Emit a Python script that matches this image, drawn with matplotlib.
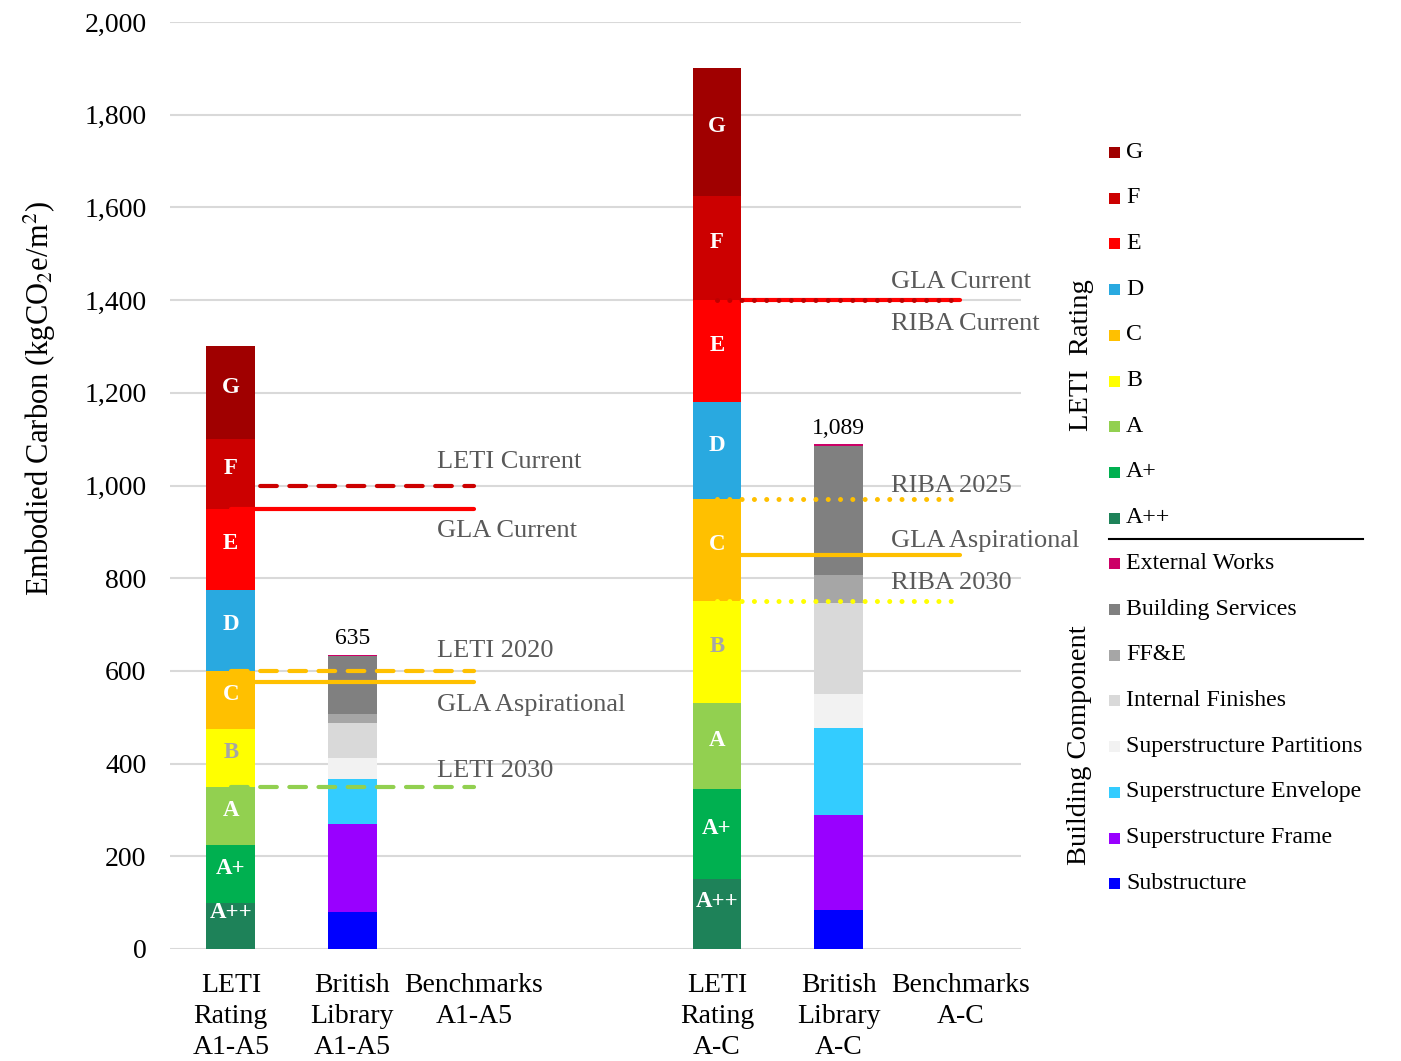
import matplotlib.pyplot as plt
from matplotlib.patches import Rectangle
from matplotlib.lines import Line2D
import numpy as np

plt.rcParams['font.family'] = ['Liberation Serif', 'DejaVu Serif']
plt.rcParams['mathtext.fontset'] = 'stix'

# categories on the x axis (slot 3 is left empty)
cat_pos = [0, 1, 2, 4, 5, 6]
cat_labels = ['LETI\nRating\nA1-A5', 'British\nLibrary\nA1-A5', 'Benchmarks\nA1-A5',
              'LETI\nRating\nA-C', 'British\nLibrary\nA-C', 'Benchmarks\nA-C']

# LETI rating band upper limits (kgCO2e/m2)
leti_names = ['A++', 'A+', 'A', 'B', 'C', 'D', 'E', 'F', 'G']
leti_colors = ['#1E8259', '#00B050', '#92D050', '#FFFF00', '#FFC000',
               '#29A9E0', '#FF0000', '#CC0000', '#A00000']
leti_a1a5 = [100, 225, 350, 475, 600, 775, 950, 1100, 1300]
leti_ac = [150, 345, 530, 750, 970, 1180, 1400, 1625, 1900]

# British Library building components
comp_names = ['Substructure', 'Superstructure Frame', 'Superstructure Envelope',
              'Superstructure Partitions', 'Internal Finishes', 'FF&E',
              'Building Services', 'External Works']
comp_colors = ['#0000FF', '#9900FF', '#33CCFF', '#F2F2F2', '#D9D9D9',
               '#A6A6A6', '#808080', '#CC0066']
bl_a1a5 = [80, 190, 97, 45, 75, 20, 126, 2]
bl_ac = [84, 205, 187, 75, 196, 60, 279, 3]

# benchmark lines: name, value, colour, style, drawn over LETI bar
bench_a1a5 = [('LETI Current', 1000, '#CC0000', 'dash', False),
              ('GLA Current', 950, '#FF0000', 'solid', True),
              ('LETI 2020', 600, '#FFC000', 'dash', True),
              ('GLA Aspirational', 575, '#FFC000', 'solid', False),
              ('LETI 2030', 350, '#92D050', 'dash', True)]
bench_ac = [('RIBA Current', 1400, '#C00000', 'dot', True),
            ('GLA Current', 1400, '#FF0000', 'solid', False),
            ('RIBA 2025', 970, '#FFC000', 'dot', True),
            ('GLA Aspirational', 850, '#FFC000', 'solid', False),
            ('RIBA 2030', 750, '#FFFF00', 'dot', True)]
# label text positions (value) for the benchmark names
label_a1a5 = {'LETI Current': 1051, 'GLA Current': 902, 'LETI 2020': 643,
              'GLA Aspirational': 526, 'LETI 2030': 384}
label_ac = {'GLA Current': 1439, 'RIBA Current': 1348, 'RIBA 2025': 999,
            'GLA Aspirational': 880, 'RIBA 2030': 790}

fig = plt.figure(figsize=(14.01, 10.61), dpi=100)
W, H = 1401, 1061
ax = fig.add_axes([170 / W, 1 - 949 / H, 851 / W, 927 / H])
ax.set_xlim(-0.5, 6.5)
ax.set_ylim(0, 2000)

bw = 0.4


def leti_bar(x, tops):
    bottoms = [0] + tops[:-1]
    for name, c, b, t in zip(leti_names, leti_colors, bottoms, tops):
        ax.bar(x, t - b, bw, bottom=b, color=c, zorder=3)
        off = 28 if name == 'A++' else 12
        ax.text(x, (b + t) / 2 + off, name, ha='center', va='center',
                fontsize=16.5, fontweight='bold',
                color='#A6A6A6' if name == 'B' else 'white', zorder=6)


def comp_bar(x, vals):
    bottom = 0
    for c, v in zip(comp_colors, vals):
        ax.bar(x, v, bw, bottom=bottom, color=c, zorder=2)
        bottom += v
    ax.text(x, bottom + 12, f'{bottom:,}', ha='center', va='bottom',
            fontsize=17, color='black')


def bench_lines(x0, x1, lines, labels, xt):
    for name, v, c, style, over in lines:
        kw = dict(color=c, lw=3, solid_capstyle='round', dash_capstyle='round',
                  zorder=4 if over else 2.5)
        if style == 'dash':
            kw['dashes'] = (4, 3)
        elif style == 'dot':
            kw['lw'] = 3.6
            kw['dashes'] = (0.01, 2.45)
        ax.plot([x0, x1], [v, v], **kw)
        ax.text(xt, labels[name], name, ha='left', va='center', fontsize=19,
                color='#595959', zorder=6)


leti_bar(0, leti_a1a5)
comp_bar(1, bl_a1a5)
leti_bar(4, leti_ac)
comp_bar(5, bl_ac)
bench_lines(0, 2, bench_a1a5, label_a1a5, 1.7)
bench_lines(4, 6, bench_ac, label_ac, 5.43)

ax.set_yticks(np.arange(0, 2001, 200))
ax.set_yticklabels([f'{v:,}' for v in range(0, 2001, 200)], fontsize=20)
ax.set_xticks(cat_pos)
ax.set_xticklabels(cat_labels, fontsize=20, linespacing=1.32)
ax.tick_params(axis='both', length=0)
ax.tick_params(axis='y', pad=17)
ax.tick_params(axis='x', pad=17)
ax.grid(axis='y', color='#D9D9D9', lw=1.5, zorder=0)
ax.set_axisbelow(True)
for s in ax.spines.values():
    s.set_visible(False)

fig.text(40 / W, 1 - 398 / H, r'Embodied Carbon (kgCO$_2$e/m$^2$)', rotation=90,
         ha='center', va='center', fontsize=22)

# legend drawn at the right
items = list(zip(leti_names[::-1], leti_colors[::-1])) + \
    list(zip(comp_names[::-1], comp_colors[::-1]))
for i, (name, c) in enumerate(items):
    yp = 152 + i * 45.7
    fig.patches.append(Rectangle((1109 / W, 1 - (yp + 6) / H), 11 / W, 11 / H,
                                 facecolor=c, transform=fig.transFigure))
    fig.text(1126 / W, 1 - yp / H, name, ha='left', va='center', fontsize=17.2)
fig.lines.append(Line2D([1109 / W, 1363 / W], [1 - 539 / H, 1 - 539 / H],
                        color='black', lw=1.5, transform=fig.transFigure))
fig.text(1081 / W, 1 - 355 / H, 'LETI  Rating', rotation=90, ha='center',
         va='center', fontsize=20.5)
fig.text(1079 / W, 1 - 745 / H, 'Building Component', rotation=90, ha='center',
         va='center', fontsize=20.5)

fig.savefig('out.png', dpi=100)
